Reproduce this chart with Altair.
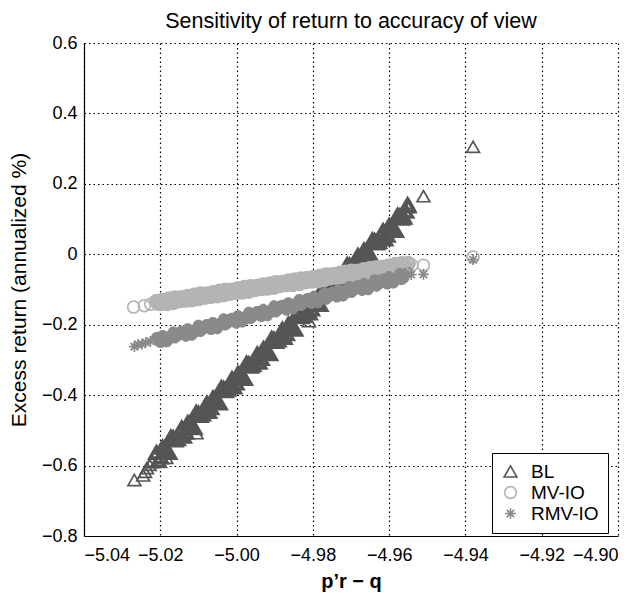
import altair as alt
import pandas as pd

series_names = ["BL", "MV-IO", "RMV-IO"]
series_colors = ["#555555", "#b4b4b4", "#8a8a8a"]
series_sizes = [165, 115, 120]

# x positions of the dense bands
x_band = [-5.0210, -5.0199, -5.0188, -5.0177, -5.0166, -5.0155, -5.0144, -5.0133, -5.0122, -5.0111,
          -5.0100, -5.0089, -5.0078, -5.0067, -5.0056, -5.0045, -5.0034, -5.0023, -5.0012, -5.0001,
          -4.9990, -4.9979, -4.9968, -4.9957, -4.9946, -4.9935, -4.9924, -4.9913, -4.9902, -4.9891,
          -4.9880, -4.9869, -4.9858, -4.9847, -4.9836, -4.9825, -4.9814, -4.9803, -4.9792, -4.9781,
          -4.9770, -4.9759, -4.9748, -4.9737, -4.9726, -4.9715, -4.9704, -4.9693, -4.9682, -4.9671,
          -4.9660, -4.9649, -4.9638, -4.9627, -4.9616, -4.9605, -4.9594, -4.9583, -4.9572, -4.9561,
          -4.9550]
x_band2 = [-5.0205, -5.0194, -5.0183, -5.0172, -5.0161, -5.0150, -5.0139, -5.0128, -5.0117, -5.0106,
           -5.0095, -5.0084, -5.0073, -5.0062, -5.0051, -5.0040, -5.0029, -5.0018, -5.0007, -4.9996,
           -4.9985, -4.9974, -4.9963, -4.9952, -4.9941, -4.9930, -4.9919, -4.9908, -4.9897, -4.9886,
           -4.9875, -4.9864, -4.9853, -4.9842, -4.9831, -4.9820, -4.9809, -4.9798, -4.9787, -4.9776,
           -4.9765, -4.9754, -4.9743, -4.9732, -4.9721, -4.9710, -4.9699, -4.9688, -4.9677, -4.9666,
           -4.9655, -4.9644, -4.9633, -4.9622, -4.9611, -4.9600, -4.9589, -4.9578, -4.9567, -4.9556]

bl_band = [-0.563, -0.576, -0.549, -0.563, -0.521, -0.524, -0.493, -0.506, -0.479, -0.493,
           -0.451, -0.454, -0.423, -0.436, -0.409, -0.423, -0.381, -0.384, -0.353, -0.366,
           -0.339, -0.353, -0.311, -0.314, -0.283, -0.296, -0.269, -0.283, -0.241, -0.244,
           -0.213, -0.226, -0.199, -0.213, -0.171, -0.174, -0.143, -0.156, -0.129, -0.143,
           -0.101, -0.104, -0.073, -0.086, -0.060, -0.073, -0.031, -0.035, -0.003, -0.016,
           0.010, -0.003, 0.039, 0.035, 0.067, 0.054, 0.080, 0.067, 0.109, 0.105,
           0.137]
bl_band2 = [-0.587, -0.548, -0.557, -0.519, -0.528, -0.508, -0.517, -0.478, -0.487, -0.449,
            -0.458, -0.438, -0.447, -0.408, -0.417, -0.379, -0.388, -0.368, -0.377, -0.338,
            -0.347, -0.309, -0.318, -0.298, -0.307, -0.268, -0.277, -0.239, -0.248, -0.228,
            -0.237, -0.198, -0.207, -0.169, -0.178, -0.158, -0.167, -0.128, -0.137, -0.099,
            -0.108, -0.088, -0.097, -0.058, -0.067, -0.029, -0.038, -0.018, -0.027, 0.012,
            0.003, 0.041, 0.032, 0.052, 0.043, 0.082, 0.073, 0.111, 0.102, 0.122]

mv_band = [-0.134, -0.140, -0.135, -0.127, -0.137, -0.127, -0.123, -0.130, -0.124, -0.116,
           -0.126, -0.116, -0.113, -0.119, -0.113, -0.105, -0.115, -0.106, -0.102, -0.108,
           -0.102, -0.094, -0.105, -0.095, -0.091, -0.097, -0.091, -0.084, -0.094, -0.084,
           -0.080, -0.086, -0.081, -0.073, -0.083, -0.073, -0.069, -0.076, -0.070, -0.062,
           -0.072, -0.062, -0.058, -0.065, -0.059, -0.051, -0.061, -0.051, -0.048, -0.054,
           -0.048, -0.040, -0.050, -0.041, -0.037, -0.043, -0.037, -0.029, -0.040, -0.030,
           -0.026]
mv_band2 = [-0.139, -0.131, -0.140, -0.130, -0.124, -0.132, -0.129, -0.120, -0.129, -0.119,
            -0.113, -0.122, -0.118, -0.109, -0.118, -0.108, -0.102, -0.111, -0.107, -0.098,
            -0.107, -0.097, -0.092, -0.100, -0.096, -0.087, -0.096, -0.087, -0.081, -0.089,
            -0.085, -0.076, -0.086, -0.076, -0.070, -0.078, -0.074, -0.066, -0.075, -0.065,
            -0.059, -0.067, -0.064, -0.055, -0.064, -0.054, -0.048, -0.057, -0.053, -0.044,
            -0.053, -0.043, -0.038, -0.046, -0.042, -0.033, -0.042, -0.033, -0.027, -0.035]

rmv_band = [-0.236, -0.251, -0.236, -0.241, -0.220, -0.233, -0.218, -0.233, -0.218, -0.223,
            -0.201, -0.214, -0.199, -0.214, -0.199, -0.204, -0.183, -0.196, -0.181, -0.196,
            -0.181, -0.186, -0.164, -0.177, -0.162, -0.177, -0.162, -0.167, -0.146, -0.159,
            -0.144, -0.159, -0.144, -0.149, -0.128, -0.140, -0.125, -0.140, -0.125, -0.130,
            -0.109, -0.122, -0.107, -0.122, -0.107, -0.112, -0.091, -0.103, -0.088, -0.103,
            -0.088, -0.093, -0.072, -0.085, -0.070, -0.085, -0.070, -0.075, -0.054, -0.067,
            -0.051]
rmv_band2 = [-0.247, -0.230, -0.249, -0.229, -0.238, -0.221, -0.228, -0.211, -0.230, -0.211,
             -0.220, -0.203, -0.210, -0.193, -0.212, -0.193, -0.201, -0.184, -0.191, -0.174,
             -0.193, -0.174, -0.183, -0.166, -0.173, -0.156, -0.175, -0.156, -0.164, -0.147,
             -0.154, -0.137, -0.156, -0.137, -0.146, -0.129, -0.136, -0.119, -0.138, -0.119,
             -0.128, -0.110, -0.117, -0.100, -0.119, -0.100, -0.109, -0.092, -0.099, -0.082,
             -0.101, -0.082, -0.091, -0.073, -0.080, -0.063, -0.082, -0.063, -0.072, -0.055]

# sparse / outlying markers
bl_extra_x = [-5.0268, -5.0245, -5.0240, -5.0235, -5.0228, -5.0222, -5.0184, -5.0105, -4.9810,
              -4.9552, -4.9548, -4.9510, -4.9380]
bl_extra_y = [-0.641, -0.628, -0.618, -0.607, -0.598, -0.590, -0.578, -0.508, -0.190,
              0.146, 0.140, 0.165, 0.305]
mv_extra_x = [-5.0270, -5.0242, -5.0225, -4.9540, -4.9510, -4.9380]
mv_extra_y = [-0.150, -0.146, -0.142, -0.031, -0.031, -0.008]
rmv_extra_x = [-5.0268, -5.0258, -5.0248, -5.0238, -5.0226, -4.9542, -4.9510, -4.9380]
rmv_extra_y = [-0.262, -0.256, -0.255, -0.250, -0.247, -0.058, -0.057, -0.015]

band_rows, extra_rows = [], []
for name, bands, extra in [
    ("BL", [(x_band, bl_band), (x_band2, bl_band2)], (bl_extra_x, bl_extra_y)),
    ("MV-IO", [(x_band, mv_band), (x_band2, mv_band2)], (mv_extra_x, mv_extra_y)),
    ("RMV-IO", [(x_band, rmv_band), (x_band2, rmv_band2)], (rmv_extra_x, rmv_extra_y)),
]:
    for xs, ys in bands:
        for xv, yv in zip(xs, ys):
            band_rows.append({"x": xv, "y": yv, "series": name})
    for xv, yv in zip(*extra):
        extra_rows.append({"x": xv, "y": yv, "series": name})
df_band = pd.DataFrame(band_rows)
df_extra = pd.DataFrame(extra_rows)

asterisk = "M-1,0L1,0M0,-1L0,1M-0.7,-0.7L0.7,0.7M-0.7,0.7L0.7,-0.7"
FONT = "Liberation Sans"

legend = alt.Legend(title=None, orient="none", legendX=408, legendY=410,
                    strokeColor="black", padding=9, fillColor="white",
                    labelFontSize=19, labelFont=FONT, labelOffset=11, labelColor="black",
                    symbolStrokeWidth=1.6, rowPadding=1)

enc = dict(
    x=alt.X("x:Q", scale=alt.Scale(domain=[-5.04, -4.90], nice=False, zero=False),
            axis=alt.Axis(title="p\u2019r \u2212 q",
                          values=[-5.04, -5.02, -5.00, -4.98, -4.96, -4.94, -4.92, -4.90],
                          format=".2f", titleFontWeight="bold", titleFontSize=20, titlePadding=7,
                          labelPadding=10)),
    y=alt.Y("y:Q", scale=alt.Scale(domain=[-0.8, 0.6], nice=False, zero=False),
            axis=alt.Axis(title="Excess return (annualized %)",
                          values=[-0.8, -0.6, -0.4, -0.2, 0, 0.2, 0.4, 0.6],
                          format=".1~f", titleFontWeight="normal", titleFontSize=21, titlePadding=12,
                          labelPadding=7)),
    color=alt.Color("series:N", scale=alt.Scale(domain=series_names, range=series_colors),
                    legend=legend),
    shape=alt.Shape("series:N", scale=alt.Scale(domain=series_names,
                                               range=["triangle-up", "circle", asterisk]),
                    legend=legend),
    size=alt.Size("series:N", scale=alt.Scale(domain=series_names, range=series_sizes),
                  legend=legend),
)

bands_layer = alt.Chart(df_band).mark_point(filled=False, strokeWidth=3.6, opacity=1).encode(**enc)
extra_layer = alt.Chart(df_extra).mark_point(filled=False, strokeWidth=1.7, opacity=1).encode(**enc)

chart = alt.layer(bands_layer, extra_layer).properties(
    width=534, height=493,
    autosize=alt.AutoSizeParams(type="none"),
    padding={"left": 76, "top": 35, "right": 7, "bottom": 57},
    title=alt.TitleParams("Sensitivity of return to accuracy of view", fontSize=21.5,
                          font=FONT, fontWeight="normal", offset=2, color="black"),
).configure_axis(
    labelFont=FONT, titleFont=FONT, labelFontSize=18, labelColor="black", titleColor="black",
    domainColor="black", domainWidth=1.2, ticks=False,
    grid=True, gridColor="black", gridDash=[1.5, 3], gridOpacity=1, gridWidth=1.2,
).configure_view(stroke=None)

chart.save("out.html", embed_options={"renderer": "svg", "actions": False})
